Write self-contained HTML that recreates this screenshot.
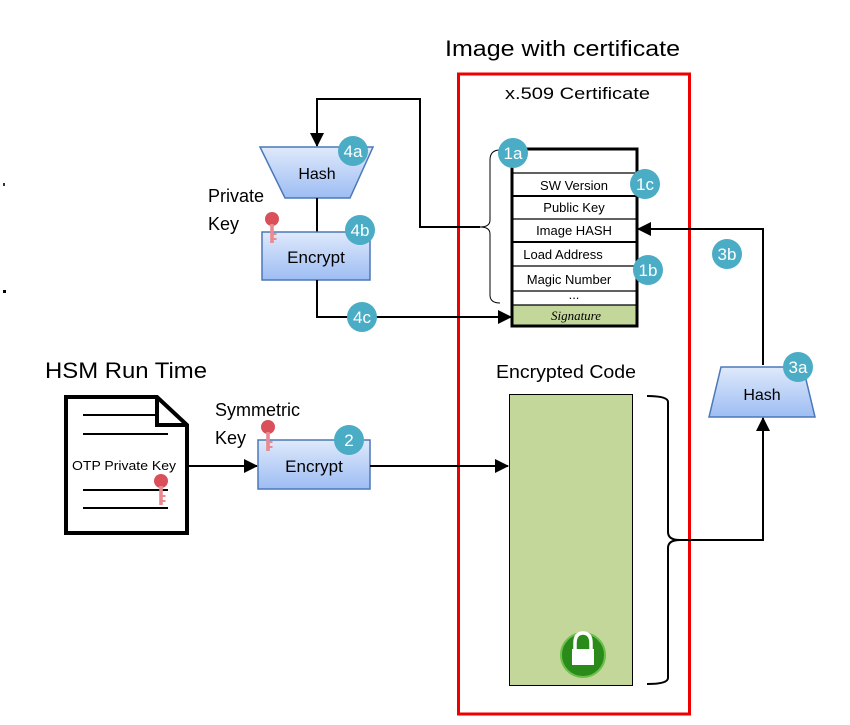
<!DOCTYPE html>
<html><head><meta charset="utf-8"><style>
html,body{margin:0;padding:0;background:#fff;}
svg{display:block;font-family:"Liberation Sans",sans-serif;}
</style></head><body>
<svg width="850" height="725" viewBox="0 0 850 725" xmlns="http://www.w3.org/2000/svg">
<defs>
<linearGradient id="bg" x1="0" y1="0" x2="0" y2="1"><stop offset="0" stop-color="#dfe9fb"/><stop offset="1" stop-color="#9dbdf3"/></linearGradient>
<marker id="ar" markerWidth="14" markerHeight="14" refX="13" refY="7" orient="auto" markerUnits="userSpaceOnUse"><path d="M0,0 L14,7 L0,14 Z" fill="#000"/></marker>
<g id="key"><circle cx="0" cy="0" r="7" fill="#d9505a"/><rect x="-1.8" y="5" width="3.6" height="19" fill="#e88a90"/><rect x="1" y="14" width="3.5" height="2" fill="#e88a90"/><rect x="1" y="19" width="3.5" height="2" fill="#e88a90"/></g>
</defs>
<rect x="3" y="183" width="2" height="3" fill="#333"/><rect x="3" y="290" width="3" height="3" fill="#000"/>

<text x="445" y="56" font-size="22" textLength="235" lengthAdjust="spacingAndGlyphs">Image with certificate</text>
<rect x="458.5" y="74" width="231" height="640" fill="none" stroke="#e00" stroke-width="3"/>
<text x="505" y="99" font-size="17" textLength="145" lengthAdjust="spacingAndGlyphs">x.509 Certificate</text>

<rect x="512" y="149" width="125" height="177" fill="#fff" stroke="#000" stroke-width="3"/>
<rect x="513.5" y="305" width="122" height="19.5" fill="#c4d79b"/>
<g stroke="#000" stroke-width="1.2">
<line x1="512" y1="173" x2="637" y2="173"/><line x1="512" y1="196" x2="637" y2="196" stroke-width="2"/>
<line x1="512" y1="219" x2="637" y2="219"/><line x1="512" y1="242" x2="637" y2="242" stroke-width="2"/>
<line x1="512" y1="266" x2="637" y2="266"/><line x1="512" y1="291" x2="637" y2="291"/>
<line x1="512" y1="305" x2="637" y2="305"/></g>
<g font-size="13" text-anchor="middle">
<text x="574" y="190">SW Version</text><text x="574" y="212">Public Key</text>
<text x="574" y="235">Image HASH</text><text x="563" y="259">Load Address</text>
<text x="569" y="284">Magic Number</text><text x="574" y="299">...</text>
<text x="576" y="320" font-family="Liberation Serif" font-style="italic" font-size="13">Signature</text></g>

<path d="M500,150 Q490,150 490,160 L490,220 Q490,227 480,227 Q490,227 490,234 L490,295 Q490,303 500,303" fill="none" stroke="#000" stroke-width="1"/>
<path d="M480,227 L420,227 L420,99 L317,99 L317,146" fill="none" stroke="#000" stroke-width="2" marker-end="url(#ar)"/>

<path d="M260,147 L373,147 L350,198 L285,198 Z" fill="url(#bg)" stroke="#4a78b8" stroke-width="1.5"/>
<text x="317" y="179" font-size="16" text-anchor="middle">Hash</text>
<line x1="317" y1="198" x2="317" y2="232" stroke="#000" stroke-width="2"/>
<text x="208" y="202" font-size="18">Private</text><text x="208" y="230" font-size="18">Key</text>
<rect x="262" y="232" width="108" height="48" fill="url(#bg)" stroke="#4a78b8" stroke-width="1.5"/>
<text x="316" y="263" font-size="17" text-anchor="middle">Encrypt</text>
<use href="#key" x="272" y="219"/>
<path d="M317,280 L317,317 L511,317" fill="none" stroke="#000" stroke-width="2" marker-end="url(#ar)"/>

<path d="M763,365 L763,229 L638,229" fill="none" stroke="#000" stroke-width="2" marker-end="url(#ar)"/>
<path d="M721,367 L803,367 L815,417 L709,417 Z" fill="url(#bg)" stroke="#4a78b8" stroke-width="1.5"/>
<text x="762" y="400" font-size="16" text-anchor="middle">Hash</text>
<path d="M680,540 L763,540 L763,418" fill="none" stroke="#000" stroke-width="2" marker-end="url(#ar)"/>
<path d="M647,396 Q668,396 668,402 L668,532 Q668,540 680,540 Q668,540 668,548 L668,678 Q668,684 647,684" fill="none" stroke="#000" stroke-width="2"/>

<text x="566" y="378" font-size="18" text-anchor="middle" textLength="140" lengthAdjust="spacingAndGlyphs">Encrypted Code</text>
<rect x="509.5" y="394.5" width="123" height="291" fill="#c4d79b" stroke="#000" stroke-width="1"/>
<circle cx="583" cy="655" r="22" fill="#2a8a1a" stroke="#6ac04a" stroke-width="2"/>
<path d="M575,650 L575,643 Q575,633 583,633 Q591,633 591,643 L591,650" fill="none" stroke="#fff" stroke-width="3.5"/>
<rect x="572" y="649" width="22" height="16" fill="#fff"/>

<text x="45" y="378" font-size="22" textLength="162" lengthAdjust="spacingAndGlyphs">HSM Run Time</text>
<path d="M66,397 L157,397 L187,425 L187,533 L66,533 Z" fill="#fff" stroke="#000" stroke-width="4"/>
<path d="M157,397 L157,425 L187,425" fill="none" stroke="#000" stroke-width="4"/>
<g stroke="#000" stroke-width="2"><line x1="83" y1="415" x2="155" y2="415"/><line x1="83" y1="434" x2="168" y2="434"/><line x1="83" y1="490" x2="168" y2="490"/><line x1="83" y1="508" x2="168" y2="508"/></g>
<text x="72" y="470" font-size="13" textLength="104" lengthAdjust="spacingAndGlyphs">OTP Private Key</text>
<use href="#key" x="161" y="481"/>
<path d="M188,466 L257,466" fill="none" stroke="#000" stroke-width="2" marker-end="url(#ar)"/>
<text x="215" y="416" font-size="18">Symmetric</text><text x="215" y="444" font-size="18">Key</text>
<rect x="258" y="440" width="112" height="49" fill="url(#bg)" stroke="#4a78b8" stroke-width="1.5"/>
<text x="314" y="472" font-size="17" text-anchor="middle">Encrypt</text>
<use href="#key" x="268" y="427"/>
<path d="M370,466 L508,466" fill="none" stroke="#000" stroke-width="2" marker-end="url(#ar)"/>

<g font-size="17" text-anchor="middle">
<circle cx="353" cy="151" r="15" fill="#4aacc5"/><text x="353" y="157" fill="#fff">4a</text>
<circle cx="360" cy="230" r="15" fill="#4aacc5"/><text x="360" y="236" fill="#fff">4b</text>
<circle cx="362" cy="317" r="15" fill="#4aacc5"/><text x="362" y="323" fill="#fff">4c</text>
<circle cx="513" cy="153" r="15" fill="#4aacc5"/><text x="513" y="159" fill="#fff">1a</text>
<circle cx="645" cy="184" r="15" fill="#4aacc5"/><text x="645" y="190" fill="#fff">1c</text>
<circle cx="648" cy="270" r="15" fill="#4aacc5"/><text x="648" y="276" fill="#fff">1b</text>
<circle cx="727" cy="254" r="15" fill="#4aacc5"/><text x="727" y="260" fill="#fff">3b</text>
<circle cx="798" cy="367" r="15" fill="#4aacc5"/><text x="798" y="373" fill="#fff">3a</text>
<circle cx="349" cy="440" r="15" fill="#4aacc5"/><text x="349" y="446" fill="#fff">2</text>
</g>
</svg>
</body></html>
